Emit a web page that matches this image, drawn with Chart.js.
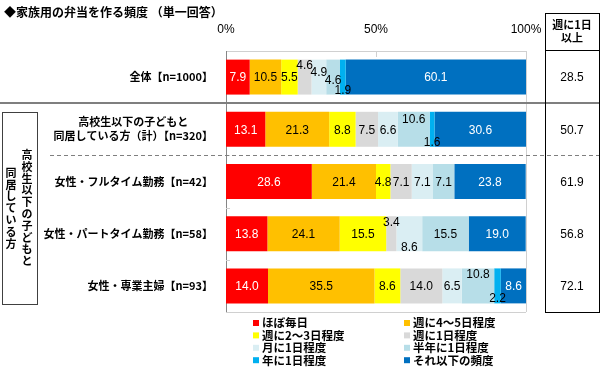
<!DOCTYPE html>
<html>
<head>
<meta charset="utf-8">
<script src="https://cdn.jsdelivr.net/npm/chart.js@4.4.1/dist/chart.umd.min.js"></script>
<style>
  body { margin: 0; background: #fff; }
</style>
</head>
<body>
<canvas id="bento-chart" width="600" height="369"></canvas>
<script>
// chart data
var chartTitle = '◆家族用の弁当を作る頻度 （単一回答）';
var categories = [
    ['全体【n=1000】'],
    ['高校生以下の子どもと', '同居している方（計）【n=320】'],
    ['女性・フルタイム勤務【n=42】'],
    ['女性・パートタイム勤務【n=58】'],
    ['女性・専業主婦【n=93】']
];
var seriesNames = ['ほぼ毎日', '週に4～5日程度', '週に2～3日程度', '週に1日程度',
    '月に1日程度', '半年に1日程度', '年に1日程度', 'それ以下の頻度'];
var seriesColors = ['#ff0000', '#ffc000', '#ffff00', '#d9d9d9',
    '#daeef3', '#b7dee8', '#00b0f0', '#0070c0'];

var everyDay = [7.9, 13.1, 28.6, 13.8, 14.0];
var fourFiveWeek = [10.5, 21.3, 21.4, 24.1, 35.5];
var twoThreeWeek = [5.5, 8.8, 4.8, 15.5, 8.6];
var oncePerWeek = [4.6, 7.5, 7.1, 3.4, 14.0];
var oncePerMonth = [4.9, 6.6, 7.1, 8.6, 6.5];
var oncePerHalfYear = [4.6, 10.6, 7.1, 15.5, 10.8];
var oncePerYear = [1.9, 1.6, 0, 0, 2.2];
var lessOften = [60.1, 30.6, 23.8, 19.0, 8.6];

var weeklyOrMore = [28.5, 50.7, 61.9, 56.8, 72.1];
var weeklyHeader = ['週に1日', '以上'];
var groupLabel = ['高校生以下の子どもと', '同居している方'];
var xTicks = [0, 50, 100];

var seriesValues = [everyDay, fourFiveWeek, twoThreeWeek, oncePerWeek,
    oncePerMonth, oncePerHalfYear, oncePerYear, lessOften];

var JP = "'Noto Sans CJK JP', sans-serif";
var NUM = "'Liberation Sans', Arial, sans-serif";

// labels in thin segments are pushed up or down (row-dataset)
var labelShift = {
    '0-3': -12, '0-4': -5, '0-5': 3, '0-6': 13,
    '1-5': -11, '1-6': 12,
    '3-3': -12, '3-4': 13,
    '4-5': -12, '4-6': 12
};

var overlay = {
    id: 'overlay',
    afterDraw: function (chart) {
        var ctx = chart.ctx;
        var xs = chart.scales.x;
        var ys = chart.scales.y;
        var area = chart.chartArea;
        ctx.save();

        // title
        ctx.fillStyle = '#000';
        ctx.font = 'bold 12px ' + JP;
        ctx.textAlign = 'left';
        ctx.textBaseline = 'middle';
        ctx.fillText(chartTitle, 4, 12);

        // plot frame (right, bottom) and inner ticks
        ctx.strokeStyle = '#d0d0d0';
        ctx.lineWidth = 1;
        ctx.beginPath();
        ctx.moveTo(Math.round(area.right) + 0.5, area.top);
        ctx.lineTo(Math.round(area.right) + 0.5, area.bottom);
        ctx.moveTo(area.left, Math.round(area.bottom) + 0.5);
        ctx.lineTo(area.right, Math.round(area.bottom) + 0.5);
        var mid = Math.round(xs.getPixelForValue(50)) + 0.5;
        ctx.moveTo(mid, area.top);
        ctx.lineTo(mid, area.top + 6);
        for (var k = 2; k < categories.length; k++) {
            var ty = Math.round((ys.getPixelForValue(k - 1) + ys.getPixelForValue(k)) / 2) + 0.5;
            ctx.moveTo(area.left, ty);
            ctx.lineTo(area.left + 4, ty);
        }
        ctx.stroke();

        // data labels
        ctx.font = '12px ' + NUM;
        ctx.textAlign = 'center';
        chart.data.datasets.forEach(function (ds, i) {
            var meta = chart.getDatasetMeta(i);
            meta.data.forEach(function (bar, j) {
                var v = ds.data[j];
                if (!v) return;
                var shift = labelShift[j + '-' + i] || 0;
                ctx.fillStyle = (i === 0 || i === 7) ? '#fff' : '#000';
                ctx.fillText(v.toFixed(1), (bar.x + bar.base) / 2, bar.y + shift + 1);
            });
        });

        // category labels
        ctx.fillStyle = '#000';
        ctx.font = 'bold 11px ' + JP;
        categories.forEach(function (lines, j) {
            var cy = ys.getPixelForValue(j);
            if (lines.length === 1) {
                ctx.textAlign = 'right';
                ctx.fillText(lines[0], 213, cy);
            } else {
                var w = ctx.measureText(lines[1]).width;
                ctx.textAlign = 'right';
                ctx.fillText(lines[1], 213, cy + 7);
                ctx.textAlign = 'center';
                ctx.fillText(lines[0], 213 - w / 2, cy - 7);
            }
        });

        // separators
        var sep1 = Math.round((ys.getPixelForValue(0) + ys.getPixelForValue(1)) / 2);
        var sep2 = Math.round((ys.getPixelForValue(1) + ys.getPixelForValue(2)) / 2) + 0.5;
        ctx.strokeStyle = '#7f7f7f';
        ctx.lineWidth = 2;
        ctx.beginPath();
        ctx.moveTo(0, sep1);
        ctx.lineTo(600, sep1);
        ctx.stroke();
        ctx.lineWidth = 1;
        ctx.setLineDash([4, 3]);
        ctx.beginPath();
        ctx.moveTo(50, sep2);
        ctx.lineTo(600, sep2);
        ctx.stroke();
        ctx.setLineDash([]);

        // left group box with vertical text
        ctx.strokeStyle = '#404040';
        ctx.strokeRect(2.5, 112.5, 35, 192);
        ctx.fillStyle = '#000';
        ctx.font = 'bold 11px ' + JP;
        ctx.textAlign = 'center';
        [27, 11].forEach(function (cx, c) {
            var chars = Array.from(groupLabel[c]);
            var step = 11.8;
            var y0 = 208 - (chars.length - 1) * step / 2;
            chars.forEach(function (ch, n) {
                ctx.fillText(ch, cx, y0 + n * step);
            });
        });

        // right table: weekly or more
        ctx.strokeStyle = '#000';
        ctx.strokeRect(545.5, 13.5, 54, Math.round(area.bottom) - 13);
        ctx.beginPath();
        ctx.moveTo(545, 50.5);
        ctx.lineTo(600, 50.5);
        ctx.stroke();
        ctx.font = 'bold 11px ' + JP;
        ctx.fillText(weeklyHeader[0], 572, 25);
        ctx.fillText(weeklyHeader[1], 572, 38);
        ctx.font = '12px ' + NUM;
        weeklyOrMore.forEach(function (v, j) {
            ctx.fillText(v.toFixed(1), 572, ys.getPixelForValue(j) + 1);
        });

        // legend, two columns
        ctx.font = 'bold 11.5px ' + JP;
        ctx.textAlign = 'left';
        chart.data.datasets.forEach(function (ds, i) {
            var lx = i % 2 === 0 ? 253 : 404;
            var ly = 323 + Math.floor(i / 2) * 12.4;
            ctx.fillStyle = ds.backgroundColor;
            ctx.fillRect(lx, ly - 3, 6, 6);
            ctx.fillStyle = '#000';
            ctx.fillText(ds.label, lx + 9, ly);
        });

        ctx.restore();
    }
};

var ctx = document.getElementById('bento-chart').getContext('2d');
var bentoChart = new Chart(ctx, {
    type: 'bar',
    data: {
        labels: categories,
        datasets: seriesNames.map(function (name, i) {
            return {
                label: name,
                data: seriesValues[i],
                backgroundColor: seriesColors[i],
                borderWidth: 0,
                barPercentage: 0.67,
                categoryPercentage: 1
            };
        })
    },
    options: {
        indexAxis: 'y',
        responsive: false,
        animation: false,
        layout: {
            padding: { left: 226, right: 74, top: 18, bottom: 57 }
        },
        plugins: {
            legend: { display: false },
            tooltip: { enabled: false }
        },
        scales: {
            x: {
                position: 'top',
                stacked: true,
                min: 0,
                max: 100,
                afterBuildTicks: function (scale) {
                    scale.ticks = xTicks.map(function (v) { return { value: v }; });
                },
                afterFit: function (scale) { scale.height = 33; },
                grid: { display: false },
                border: { color: '#d0d0d0' },
                ticks: {
                    padding: 6,
                    color: '#000',
                    font: { size: 12, family: NUM },
                    maxRotation: 0,
                    callback: function (v) { return v + '%'; }
                }
            },
            y: {
                stacked: true,
                grid: { display: false },
                border: { color: '#868686' },
                ticks: { display: false },
                afterFit: function (scale) { scale.width = 0; }
            }
        }
    },
    plugins: [overlay]
});
</script>
</body>
</html>
